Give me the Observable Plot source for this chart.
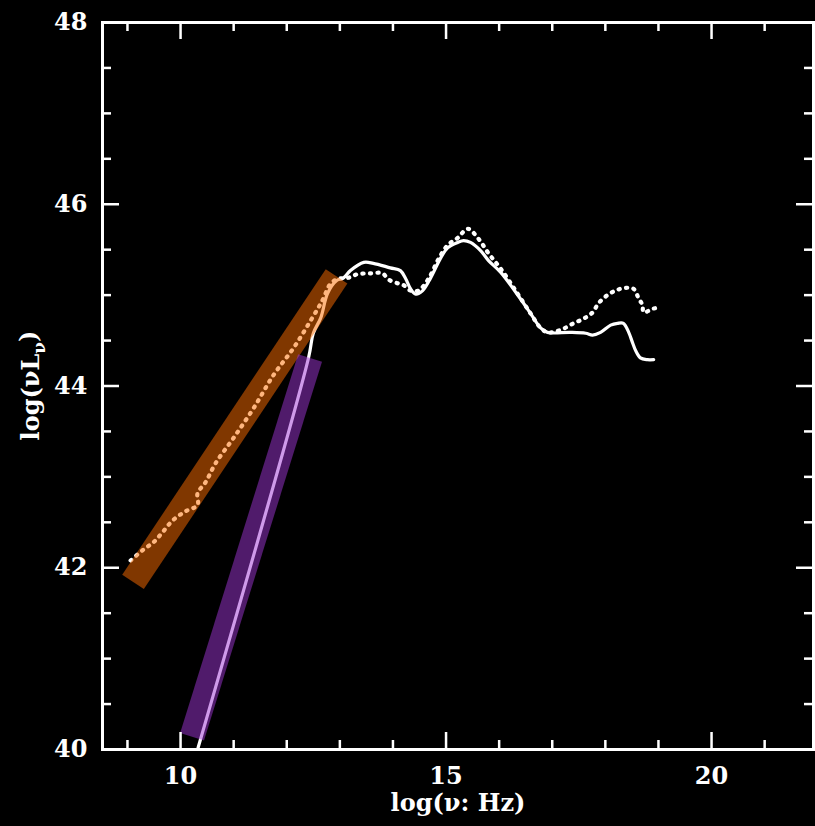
<!DOCTYPE html>
<html>
<head>
<meta charset="utf-8">
<script src="https://cdn.jsdelivr.net/npm/d3@7"></script>
<script src="https://cdn.jsdelivr.net/npm/@observablehq/plot@0.6"></script>
<style>
  html, body { margin: 0; padding: 0; background: #000; }
  #chart { width: 815px; height: 826px; overflow: hidden; }
</style>
</head>
<body>
<div id="chart"></div>
<script>
// Solid spectrum (log nu, log nuLnu)
const solidX = [10.33, 12.41, 12.50, 12.64, 12.77, 12.94, 13.07, 13.20, 13.45, 13.63, 13.95, 14.14, 14.24, 14.33, 14.43, 14.56, 14.71, 14.90, 15.03, 15.22, 15.33, 15.46, 15.65, 15.80, 16.03, 16.40, 16.59, 16.78, 16.91, 17.34, 17.63, 17.76, 17.91, 18.10, 18.23, 18.34, 18.44, 18.51, 18.57, 18.66, 18.79, 18.91];
const solidY = [40.02, 44.31, 44.58, 44.75, 45.02, 45.16, 45.19, 45.27, 45.36, 45.35, 45.30, 45.27, 45.18, 45.07, 45.01, 45.05, 45.19, 45.41, 45.52, 45.58, 45.60, 45.58, 45.49, 45.38, 45.25, 44.96, 44.80, 44.64, 44.59, 44.59, 44.58, 44.56, 44.59, 44.67, 44.69, 44.69, 44.59, 44.48, 44.39, 44.31, 44.29, 44.29];

// Dotted spectrum
const dottedX = [9.06, 9.30, 9.49, 9.66, 9.85, 10.09, 10.32, 10.32, 10.47, 10.66, 11.00, 11.38, 11.75, 12.13, 12.45, 12.67, 12.83, 12.98, 13.15, 13.33, 13.58, 13.80, 13.92, 14.09, 14.20, 14.33, 14.48, 14.67, 14.86, 15.03, 15.22, 15.41, 15.61, 15.80, 16.03, 16.31, 16.59, 16.78, 16.91, 17.06, 17.21, 17.40, 17.59, 17.76, 17.87, 18.04, 18.19, 18.38, 18.53, 18.63, 18.70, 18.72, 18.89, 18.98];
const dottedY = [42.08, 42.20, 42.28, 42.39, 42.52, 42.62, 42.69, 42.82, 42.94, 43.15, 43.43, 43.76, 44.12, 44.42, 44.72, 44.94, 45.13, 45.18, 45.19, 45.23, 45.24, 45.24, 45.17, 45.13, 45.11, 45.05, 45.05, 45.18, 45.40, 45.55, 45.63, 45.73, 45.62, 45.46, 45.29, 45.05, 44.80, 44.64, 44.59, 44.60, 44.63, 44.69, 44.74, 44.81, 44.91, 45.00, 45.05, 45.08, 45.07, 44.96, 44.89, 44.81, 44.85, 44.86];

// Highlight bands (power-law fits)
const orangeBandX = [9.105, 12.938];
const orangeBandY = [41.845, 45.206];
const purpleBandX = [10.217, 12.439];
const purpleBandY = [40.14, 44.309];

// Ticks
const xMajorTicks = [10, 15, 20];
const xMinorTicks = [9, 11, 12, 13, 14, 16, 17, 18, 19, 21];
const yMajorTicks = [40, 42, 44, 46, 48];
const yMinorTicks = [40.5, 41, 41.5, 42.5, 43, 43.5, 44.5, 45, 45.5, 46.5, 47, 47.5];

const xDomain = [8.53, 21.92];
const yDomain = [40, 48];

const W = 815, H = 826;
const mL = 102, mR = 2, mT = 22, mB = 77;
const plotW = W - mL - mR, plotH = H - mT - mB;

const pts = (xs, ys) => xs.map((x, i) => ({x, y: ys[i]}));

const majorLen = 17, minorLen = 9;

const chart = Plot.plot({
  width: W,
  height: H,
  marginLeft: mL,
  marginRight: mR,
  marginTop: mT,
  marginBottom: mB,
  style: {background: "#000", color: "#fff", fontFamily: "'DejaVu Serif', serif", fontSize: "24px", fontWeight: "bold"},
  x: {domain: xDomain, axis: null},
  y: {domain: yDomain, axis: null},
  marks: [
    Plot.line(pts(solidX, solidY), {x: "x", y: "y", stroke: "#fff", strokeWidth: 3.2, curve: "catmull-rom"}),
    Plot.line(pts(dottedX, dottedY), {x: "x", y: "y", stroke: "#fff", strokeWidth: 4.2, strokeDasharray: "1.2,6.3", strokeLinecap: "round", curve: "catmull-rom"}),
    Plot.line(pts(orangeBandX, orangeBandY), {x: "x", y: "y", stroke: "#ff6e00", strokeOpacity: 0.5, strokeWidth: 26, strokeLinecap: "butt"}),
    Plot.line(pts(purpleBandX, purpleBandY), {x: "x", y: "y", stroke: "#a035d5", strokeOpacity: 0.5, strokeWidth: 25, strokeLinecap: "butt"}),
    // bottom ticks
    Plot.ruleX(xMajorTicks, {stroke: "#fff", strokeWidth: 2.5, insetTop: plotH - majorLen}),
    Plot.ruleX(xMinorTicks, {stroke: "#fff", strokeWidth: 2.5, insetTop: plotH - minorLen}),
    // top ticks
    Plot.ruleX(xMajorTicks, {stroke: "#fff", strokeWidth: 2.5, insetBottom: plotH - majorLen}),
    Plot.ruleX(xMinorTicks, {stroke: "#fff", strokeWidth: 2.5, insetBottom: plotH - minorLen}),
    // left ticks
    Plot.ruleY(yMajorTicks, {stroke: "#fff", strokeWidth: 2.5, insetRight: plotW - majorLen}),
    Plot.ruleY(yMinorTicks, {stroke: "#fff", strokeWidth: 2.5, insetRight: plotW - minorLen}),
    // right ticks
    Plot.ruleY(yMajorTicks, {stroke: "#fff", strokeWidth: 2.5, insetLeft: plotW - majorLen}),
    Plot.ruleY(yMinorTicks, {stroke: "#fff", strokeWidth: 2.5, insetLeft: plotW - minorLen}),
    Plot.frame({stroke: "#fff", strokeWidth: 3}),
    Plot.axisX({ticks: xMajorTicks, tickSize: 0, tickPadding: 17, label: null, tickFormat: d => String(d), fill: "#fff"}),
    Plot.axisY({ticks: yMajorTicks, tickSize: 0, tickPadding: 15, label: null, tickFormat: d => String(d), fill: "#fff"}),
    Plot.text(["log(ν: Hz)"], {frameAnchor: "bottom", dy: 61, fill: "#fff", fontSize: 24, fontWeight: "bold"})
  ]
});

document.getElementById("chart").appendChild(chart);

// Y-axis title with subscript
const svg = d3.select(chart);
const yt = svg.append("text")
  .attr("transform", `translate(31,${mT + plotH / 2}) rotate(-90)`)
  .attr("text-anchor", "middle")
  .attr("dy", "0.35em")
  .attr("fill", "#fff")
  .attr("font-size", 24)
  .attr("font-weight", "bold")
  .attr("font-family", "'DejaVu Serif', serif");
yt.append("tspan").text("log(νL");
yt.append("tspan").attr("font-size", 17).attr("dy", "0.3em").text("ν");
yt.append("tspan").attr("dy", "-0.3em").text(")");
</script>
</body>
</html>
